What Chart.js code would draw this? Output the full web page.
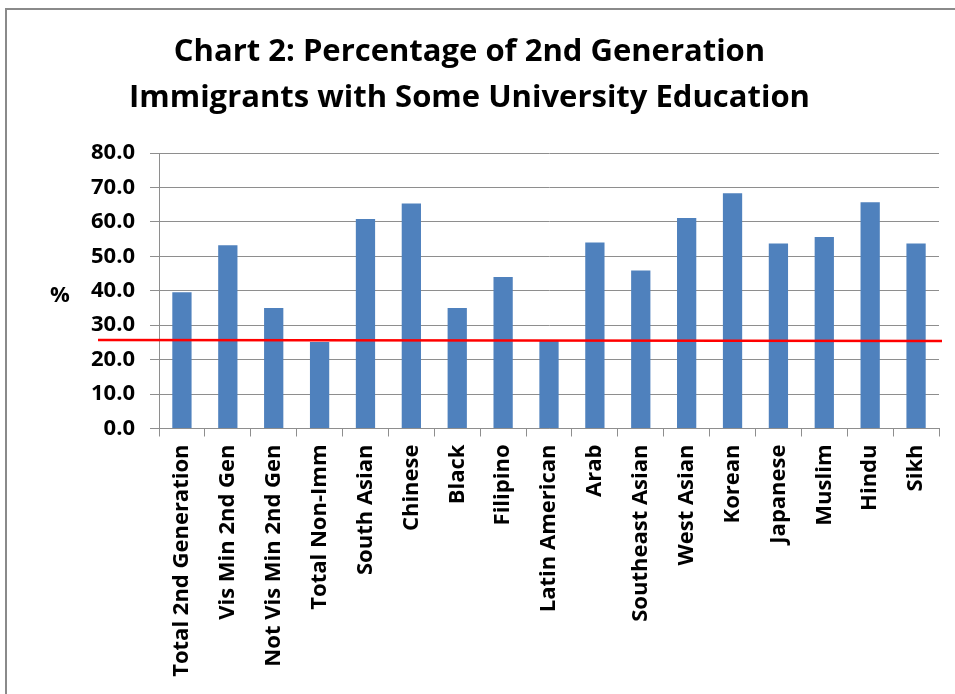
<!DOCTYPE html>
<html>
<head>
<meta charset="utf-8">
<title>Chart 2</title>
<script src="https://cdn.jsdelivr.net/npm/chart.js@4/dist/chart.umd.min.js"></script>
<style>
  html, body { margin: 0; padding: 0; background: #ffffff; }
  #wrap { position: relative; width: 955px; height: 694px; overflow: hidden; }
  #frame { position: absolute; left: 5px; top: 8px; width: 1200px; height: 1200px; border: 2px solid #8a8a8a; }
  #chart { position: absolute; left: 0; top: 0; }
</style>
</head>
<body>
<div id="wrap">
  <div id="frame"></div>
  <canvas id="chart" width="955" height="694"></canvas>
</div>
<script>
  // ─── Data ──────────────────────────────────────
  var categories = [
    'Total 2nd Generation', 'Vis Min 2nd Gen', 'Not Vis Min 2nd Gen', 'Total Non-Imm',
    'South Asian', 'Chinese', 'Black', 'Filipino', 'Latin American', 'Arab',
    'Southeast Asian', 'West Asian', 'Korean', 'Japanese', 'Muslim', 'Hindu', 'Sikh'
  ];
  var pctValues = [39.6, 53.2, 35.0, 25.1, 60.8, 65.3, 35.0, 44.0, 25.5, 54.0, 45.9, 61.1, 68.3, 53.7, 55.6, 65.7, 53.7];
  var yTickValues = [0, 10, 20, 30, 40, 50, 60, 70, 80];
  // red reference line (Total Non-Imm level), slightly sloped in the original
  var refLine = [25.7, 25.4];

  var titleLines = ['Chart 2: Percentage of 2nd Generation', 'Immigrants with Some University Education'];
  var yAxisLabel = '%';

  var FONT = '"Open Sans", Lato, sans-serif';
  var GRID = '#8e8e8e';

  // Draws the "%" label and the red reference line
  var extrasPlugin = {
    id: 'extras',
    afterDatasetsDraw: function (chart) {
      var ctx = chart.ctx;
      var area = chart.chartArea;
      var y = chart.scales.y;
      ctx.save();
      ctx.strokeStyle = '#ff0000';
      ctx.lineWidth = 2.5;
      ctx.beginPath();
      ctx.moveTo(area.left - 61, y.getPixelForValue(refLine[0]));
      ctx.lineTo(area.right + 3, y.getPixelForValue(refLine[1]));
      ctx.stroke();

      ctx.fillStyle = '#000000';
      ctx.font = 'bold 22px ' + FONT;
      ctx.textAlign = 'center';
      ctx.textBaseline = 'middle';
      ctx.fillText(yAxisLabel, 60, (area.top + area.bottom) / 2 + 5);
      ctx.restore();
    }
  };

  new Chart(document.getElementById('chart'), {
    type: 'bar',
    data: {
      labels: categories,
      datasets: [{
        data: pctValues,
        backgroundColor: '#4f81bd',
        borderWidth: 0,
        categoryPercentage: 1,
        barPercentage: 0.42
      }]
    },
    options: {
      responsive: false,
      animation: false,
      layout: { padding: { left: 0, right: 16, top: 0, bottom: 0 } },
      plugins: {
        legend: { display: false },
        tooltip: { enabled: false },
        title: {
          display: true,
          text: titleLines,
          color: '#000000',
          font: { family: FONT, size: 31, weight: 'bold', lineHeight: 46 / 31 },
          padding: { top: 29, bottom: 32 }
        }
      },
      scales: {
        x: {
          grid: {
            display: true,
            offset: true,
            drawOnChartArea: false,
            drawTicks: true,
            tickLength: 8,
            color: GRID
          },
          border: { display: true, color: GRID, width: 1 },
          ticks: {
            autoSkip: false,
            minRotation: 90,
            maxRotation: 90,
            padding: 8,
            color: '#000000',
            font: { family: FONT, size: 22, weight: 'bold' }
          },
          afterFit: function (scale) { scale.height = 694 - 428.5; }
        },
        y: {
          min: 0,
          max: 80,
          afterBuildTicks: function (scale) {
            scale.ticks = yTickValues.map(function (v) { return { value: v }; });
          },
          grid: { color: GRID, tickLength: 9, lineWidth: 1 },
          border: { display: true, color: GRID, width: 1 },
          ticks: {
            padding: 15,
            color: '#000000',
            font: { family: FONT, size: 22, weight: 'bold' },
            callback: function (v) { return Number(v).toFixed(1); }
          },
          afterFit: function (scale) { scale.width = 159; }
        }
      }
    },
    plugins: [extrasPlugin]
  });
</script>
</body>
</html>
